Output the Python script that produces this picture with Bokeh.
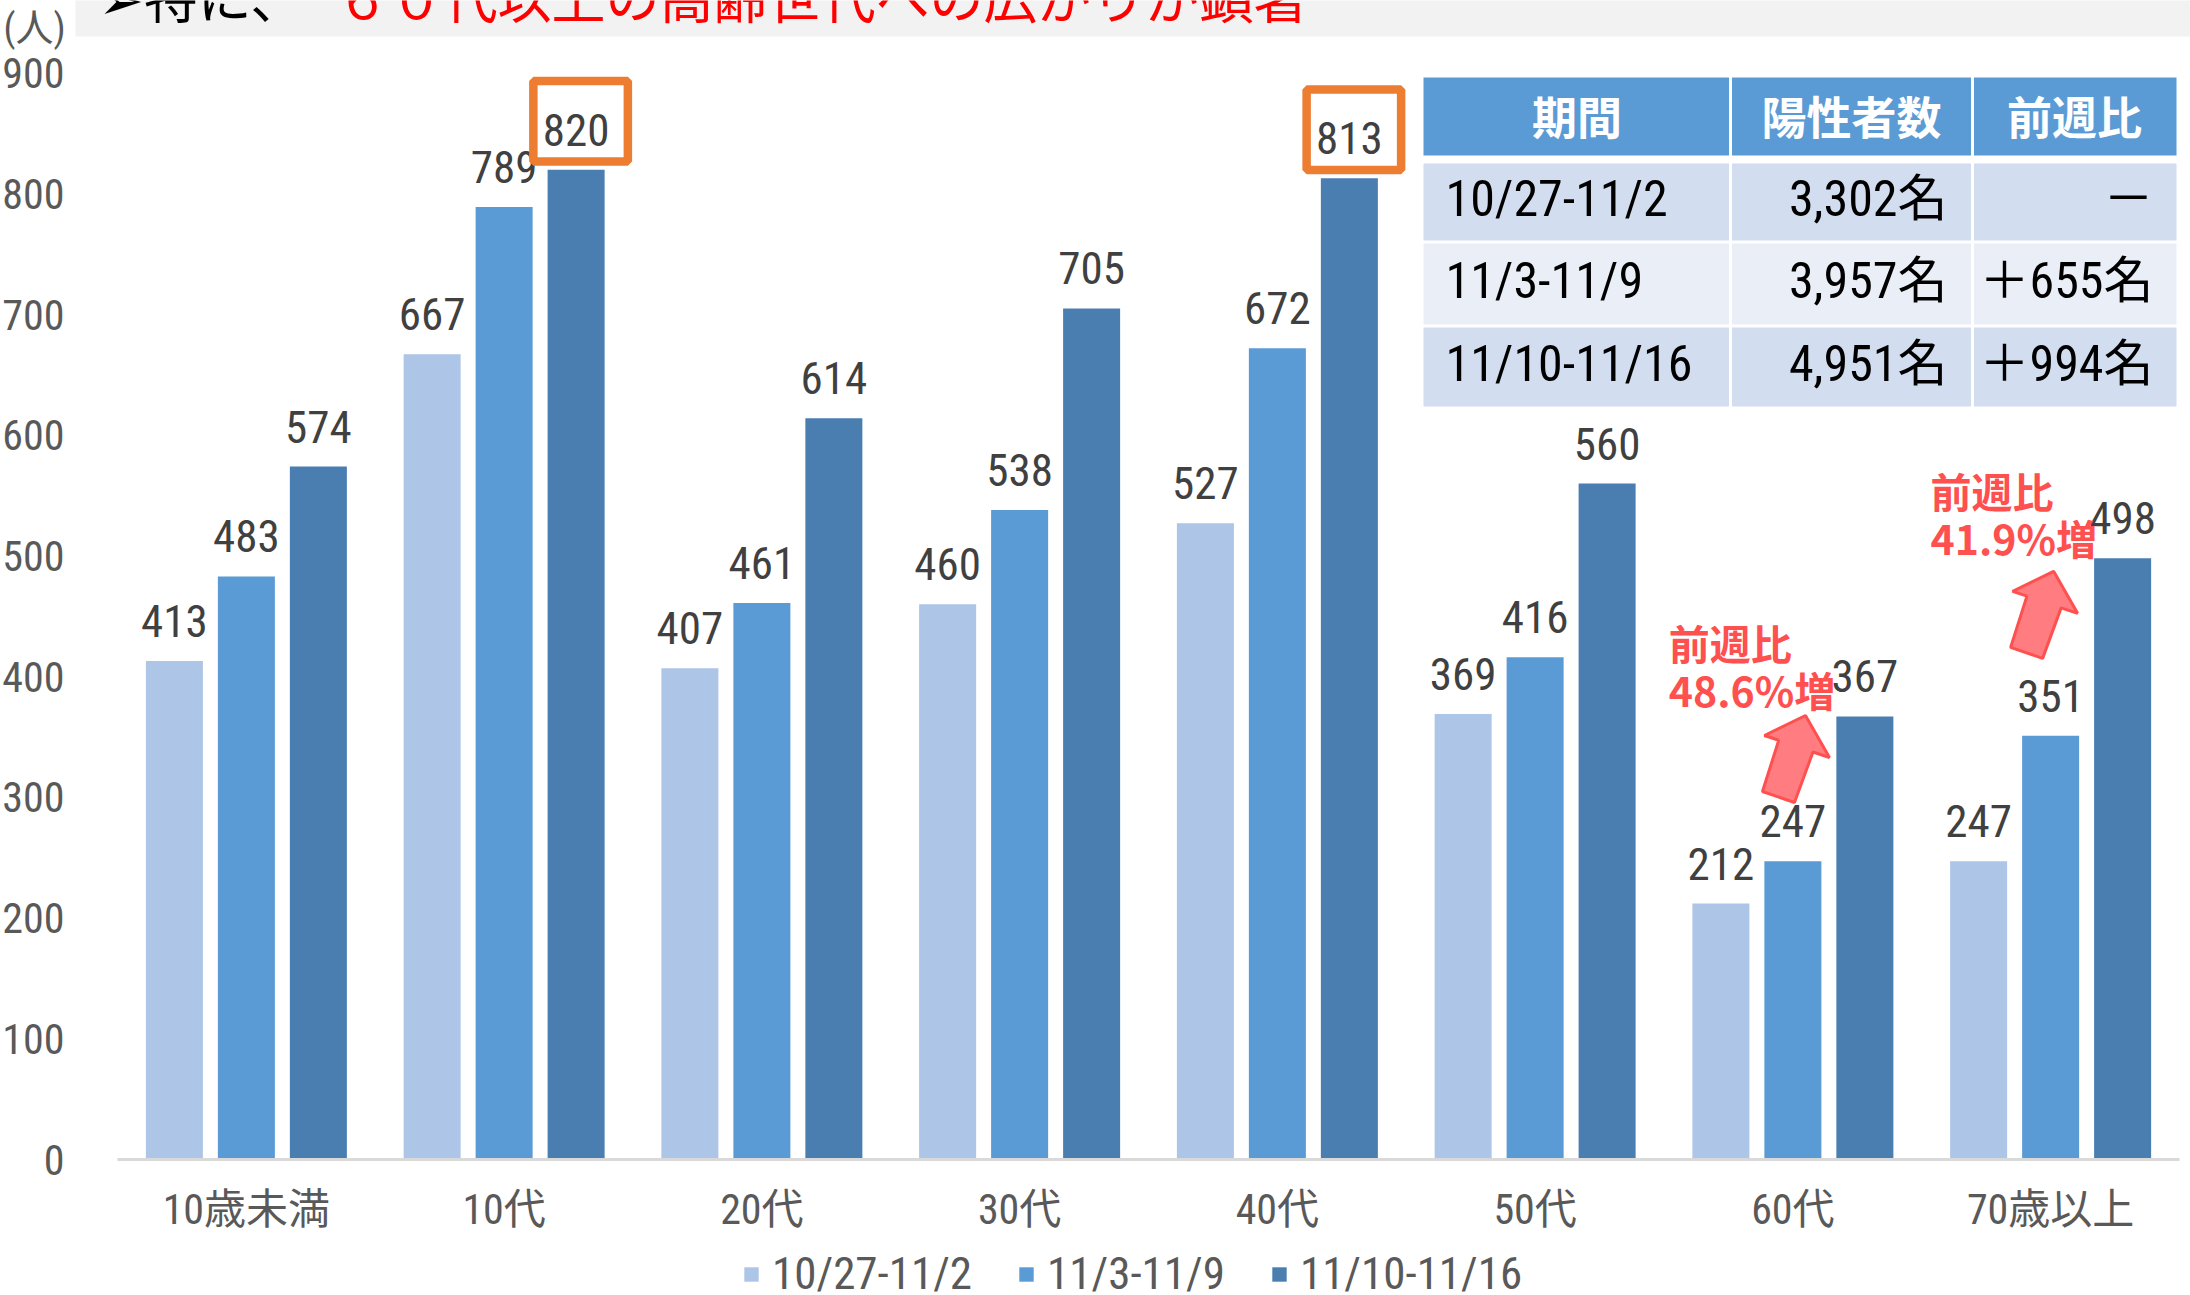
from bokeh.plotting import figure
from bokeh.models import Range1d, FixedTicker, Legend, LegendItem, ColumnDataSource, LinearAxis
from bokeh.core.properties import value
from bokeh.embed import file_html
from bokeh.resources import INLINE

# ---------------- data ----------------
categories = ["10歳未満", "10代", "20代", "30代", "40代", "50代", "60代", "70歳以上"]
series_names = ["10/27-11/2", "11/3-11/9", "11/10-11/16"]
week1 = [413, 667, 407, 460, 527, 369, 212, 247]
week2 = [483, 789, 461, 538, 672, 416, 247, 351]
week3 = [574, 820, 614, 705, 813, 560, 367, 498]
y_ticks = [0, 100, 200, 300, 400, 500, 600, 700, 800, 900]
highlight = ["10代", "40代"]

table_header = ["期間", "陽性者数", "前週比"]
table_period = ["10/27-11/2", "11/3-11/9", "11/10-11/16"]
table_count = ["3,302名", "3,957名", "4,951名"]
table_change = ["－", "＋655名", "＋994名"]

note_categories = ["60代", "70歳以上"]
note_line1 = ["前週比", "前週比"]
note_line2 = ["48.6%増", "41.9%増"]

title_black = "➢特に、"
title_red = "６０代以上の高齢世代への広がりが顕著"
unit_label = "(人)"

# ---------------- layout / style ----------------
W, H = 2190, 1295
X0, PXU = 117.0, 257.75
Y0, PYU = 1159.0, 1.2071

def dx(px):
    return (px - X0) / PXU

def dy(py):
    return (Y0 - py) / PYU

NARROW = "'Roboto Condensed', 'Noto Sans CJK JP', sans-serif"
CJK = "'Noto Sans CJK JP', 'DejaVu Sans', sans-serif"
colors = ["#ADC5E6", "#5B9BD5", "#4A7EB1"]
offsets = [-0.2793, 0.0, 0.2793]
bar_w = 0.2212
n = len(categories)

p = figure(width=W, height=H, output_backend="svg", toolbar_location=None,
           x_range=Range1d(dx(0), dx(W)), y_range=Range1d(dy(H), dy(0)),
           min_border=0, x_axis_location=None, y_axis_location=None)
p.outline_line_color = None
p.xgrid.grid_line_color = None
p.ygrid.grid_line_color = None
p.grid.visible = False

# title band
p.quad(left=[dx(75)], right=[dx(W)], top=[dy(-5)], bottom=[dy(36)],
       fill_color="#F2F2F2", line_color=None)
p.text(x=[dx(98)], y=[dy(-5)], text=[title_black], text_font=value(CJK),
       text_font_size="54px", text_color="black", text_baseline="alphabetic")
p.text(x=[dx(335)], y=[dy(-5)], text=[title_red], text_font=value(CJK),
       text_font_size="54px", text_color="#FF0000", text_baseline="alphabetic")

p.text(x=[dx(34)], y=[dy(27)], text=[unit_label], text_font=value(NARROW),
       text_font_size="38px", text_color="#595959", text_align="center",
       text_baseline="middle")

xaxis = LinearAxis(fixed_location=0, bounds=(0, n),
                   ticker=FixedTicker(ticks=[i + 0.5 for i in range(n)]),
                   major_label_overrides={i + 0.5: c for i, c in enumerate(categories)})
xaxis.axis_line_color = "#D9D9D9"
xaxis.axis_line_width = 3
xaxis.major_tick_line_color = None
xaxis.minor_tick_line_color = None
xaxis.major_label_text_font = NARROW
xaxis.major_label_text_font_size = "42px"
xaxis.major_label_text_color = "#595959"
xaxis.major_label_standoff = 19
p.add_layout(xaxis, "below")

yaxis = LinearAxis(fixed_location=dx(75), ticker=FixedTicker(ticks=y_ticks))
yaxis.axis_line_color = None
yaxis.major_tick_line_color = None
yaxis.minor_tick_line_color = None
yaxis.major_label_text_font = NARROW
yaxis.major_label_text_font_size = "42px"
yaxis.major_label_text_color = "#595959"
yaxis.major_label_standoff = 5
p.add_layout(yaxis, "left")

renderers = []
bar_x = []
for j, vals in enumerate([week1, week2, week3]):
    xs = [i + 0.5 + offsets[j] for i in range(n)]
    bar_x.append(xs)
    src = ColumnDataSource(dict(x=xs, top=vals, lbl=[str(v) for v in vals],
                                ly=[v + 40 / PYU for v in vals]))
    r = p.vbar(x="x", top="top", bottom=0, width=bar_w, source=src,
               fill_color=colors[j], line_color=None)
    renderers.append(r)
    p.text(x="x", y="ly", text="lbl", source=src, text_align="center",
           text_baseline="alphabetic", text_font=value(NARROW),
           text_font_size="45px", text_color="#404040")

hx = [bar_x[2][categories.index(c)] + 4.5 / PXU for c in highlight]
hy = [week3[categories.index(c)] + 48.4 / PYU for c in highlight]
p.rect(x=hx, y=hy, width=94.5 / PXU, height=80.5 / PYU, fill_color=None,
       line_color="#ED7D31", line_width=8.5)

col_edges = [1423, 1730, 1972, 2176]
row_edges = [(77, 155), (163, 240), (243, 324), (327, 406)]
row_fill = ["#5B9BD5", "#D2DEEF", "#EAEFF7", "#D2DEEF"]
g = 1.5
L, R, T, B, F = [], [], [], [], []
for ri, (t, b) in enumerate(row_edges):
    for ci in range(3):
        L.append(dx(col_edges[ci] + (g if ci > 0 else 0)))
        R.append(dx(col_edges[ci + 1] - (g if ci < 2 else 0)))
        T.append(dy(t))
        B.append(dy(b))
        F.append(row_fill[ri])
p.quad(left=L, right=R, top=T, bottom=B, fill_color=F, line_color=None)

hdr_cx = [dx((col_edges[i] + col_edges[i + 1]) / 2) for i in range(3)]
p.text(x=hdr_cx, y=[dy(115)] * 3, text=table_header, text_font=value(CJK),
       text_font_style="bold", text_font_size="45px", text_color="white",
       text_align="center", text_baseline="middle")
row_cy = [dy((t + b) / 2 - 3) for (t, b) in row_edges[1:]]
p.text(x=[dx(1445)] * 3, y=row_cy, text=table_period, text_font=value(NARROW),
       text_font_size="50px", text_color="black", text_align="left",
       text_baseline="middle")
p.text(x=[dx(1947)] * 3, y=row_cy, text=table_count, text_font=value(NARROW),
       text_font_size="50px", text_color="black", text_align="right",
       text_baseline="middle")
p.text(x=[dx(2153)] * 3, y=row_cy, text=table_change, text_font=value(NARROW),
       text_font_size="50px", text_color="black", text_align="right",
       text_baseline="middle")

note_text_off = [(-196, -74.5, -27.0), (-192, -68.4, -21.4)]
note_tip_off = [(-59.4, -1.0), (-69.0, 13.0)]
arrow_shape = [(0, 0), (24, 42), (7.5, 36.5), (-11, 87), (-43, 76), (-26.7, 24.8), (-41, 20)]
for k, c in enumerate(note_categories):
    ci = categories.index(c)
    bx_px = X0 + bar_x[2][ci] * PXU
    by_px = Y0 - week3[ci] * PYU
    ox, o1, o2 = note_text_off[k]
    p.text(x=[dx(bx_px + ox)] * 2, y=[dy(by_px + o1), dy(by_px + o2)],
           text=[note_line1[k], note_line2[k]], text_font=value(CJK),
           text_font_style="bold", text_font_size="41px", text_color="#FF5050",
           text_align="left", text_baseline="middle")
    tx, ty = bx_px + note_tip_off[k][0], by_px + note_tip_off[k][1]
    p.patch(x=[dx(tx + a) for a, _ in arrow_shape], y=[dy(ty + b) for _, b in arrow_shape],
            fill_color="#FF7C80", line_color="#FF5050", line_width=3)

legend = Legend(items=[LegendItem(label=s, renderers=[renderers[j]]) for j, s in enumerate(series_names)],
                orientation="horizontal", location=(742, -5))
legend.glyph_width = 18
legend.glyph_height = 18
legend.label_text_font = NARROW
legend.label_text_font_size = "45px"
legend.label_text_color = "#595959"
legend.label_standoff = 12
legend.spacing = 45
legend.padding = 0
legend.margin = 0
legend.border_line_color = None
legend.background_fill_alpha = 0
p.add_layout(legend)

open("out.html", "w").write(file_html(p, INLINE))
